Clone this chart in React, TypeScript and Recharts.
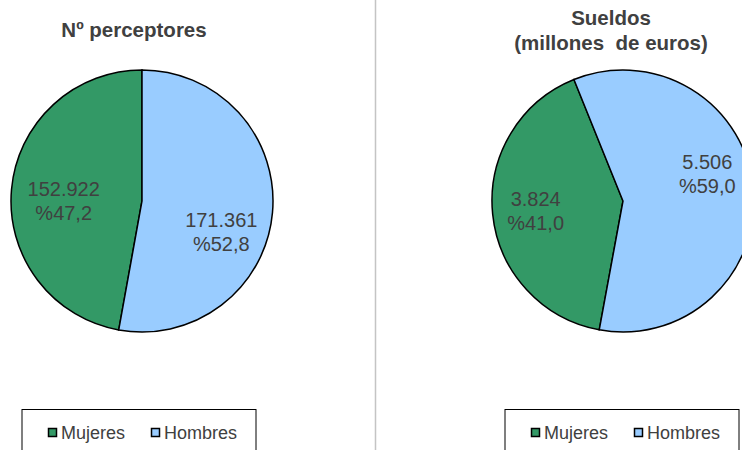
import React from 'react';
import { PieChart, Pie, Cell } from 'recharts';

const categories = ['Mujeres', 'Hombres'];
const perceptoresValues = [152922, 171361];
const sueldosValues = [3824, 5506];
const titleLeft = ['Nº perceptores'];
const titleRight = ['Sueldos', '(millones  de euros)'];

const COLORS = ['#339966', '#99CCFF'];
const TEXT = '#404040';
const FONT = '"Liberation Sans", Arial, sans-serif';

const perceptoresData = categories.map((name, i) => ({ name, value: perceptoresValues[i] }));
const sueldosData = categories.map((name, i) => ({ name, value: sueldosValues[i] }));

const fmtThousands = (v: number) => String(v).replace(/\B(?=(\d{3})+(?!\d))/g, '.');
const fmtPct = (p: number) => '%' + (p * 100).toFixed(1).replace('.', ',');

const RAD = Math.PI / 180;

const makeLabel = (rf: number, nudges: { dx: number; dy: number }[]) => (props: any) => {
  const { cx, cy, midAngle, outerRadius, index, value, percent } = props;
  const r = outerRadius * rf;
  const x = cx + r * Math.cos(-midAngle * RAD) + nudges[index].dx;
  const y = cy + r * Math.sin(-midAngle * RAD) + nudges[index].dy;
  return (
    <text x={x} y={y} textAnchor="middle" fill={TEXT} fontSize={20} fontFamily={FONT}>
      <tspan x={x} y={y - 4.5}>{fmtThousands(value)}</tspan>
      <tspan x={x} y={y + 19.5}>{fmtPct(percent)}</tspan>
    </text>
  );
};

const leftLabel = makeLabel(0.6, [{ dx: 0, dy: 6.4 }, { dx: 1, dy: 23.6 }]);
const rightLabel = makeLabel(0.67, [{ dx: 0, dy: 1 }, { dx: -3, dy: -19 }]);

const Legendbox = ({ x }: { x: number }) => (
  <g>
    <rect x={x} y={409.5} width={234} height={60} fill="#fff" stroke="#000" strokeWidth={1} />
    {categories.map((c, i) => (
      <g key={c}>
        <rect x={x + 26.5 + i * 103} y={428.5} width={8} height={8} fill={COLORS[i]} stroke="#000" strokeWidth={1.5} />
        <text x={x + 39 + i * 103} y={439} fontSize={18} fill={TEXT} fontFamily={FONT}>{c}</text>
      </g>
    ))}
  </g>
);

export default function App() {
  return (
    <div style={{ position: 'absolute', left: 0, top: 0, width: 742, height: 450, background: '#fff', overflow: 'hidden' }}>
      <PieChart width={742} height={450} margin={{ top: 0, right: 0, bottom: 0, left: 0 }}>
        <line x1={375.5} y1={0} x2={375.5} y2={450} stroke="#c4c4c4" strokeWidth={1.5} />
        {titleLeft.map((t, i) => (
          <text key={t} x={134} y={37 + i * 25} textAnchor="middle" fontSize={20.5} fontWeight="bold" fill={TEXT} fontFamily={FONT}>{t}</text>
        ))}
        {titleRight.map((t, i) => (
          <text key={t} x={611} y={25 + i * 25} textAnchor="middle" fontSize={20.5} fontWeight="bold" fill={TEXT} fontFamily={FONT} style={{ whiteSpace: 'pre' }}>{t}</text>
        ))}
        <Pie
          data={perceptoresData}
          dataKey="value"
          nameKey="name"
          cx={142}
          cy={201}
          outerRadius={131}
          startAngle={90}
          endAngle={450}
          stroke="#000"
          strokeWidth={1.5}
          label={leftLabel}
          labelLine={false}
          isAnimationActive={false}
        >
          {perceptoresData.map((d, i) => <Cell key={d.name} fill={COLORS[i]} />)}
        </Pie>
        <Pie
          data={sueldosData}
          dataKey="value"
          nameKey="name"
          cx={623}
          cy={201}
          outerRadius={131}
          startAngle={112}
          endAngle={472}
          stroke="#000"
          strokeWidth={1.5}
          label={rightLabel}
          labelLine={false}
          isAnimationActive={false}
        >
          {sueldosData.map((d, i) => <Cell key={d.name} fill={COLORS[i]} />)}
        </Pie>
        <Legendbox x={22} />
        <Legendbox x={505} />
      </PieChart>
    </div>
  );
}
